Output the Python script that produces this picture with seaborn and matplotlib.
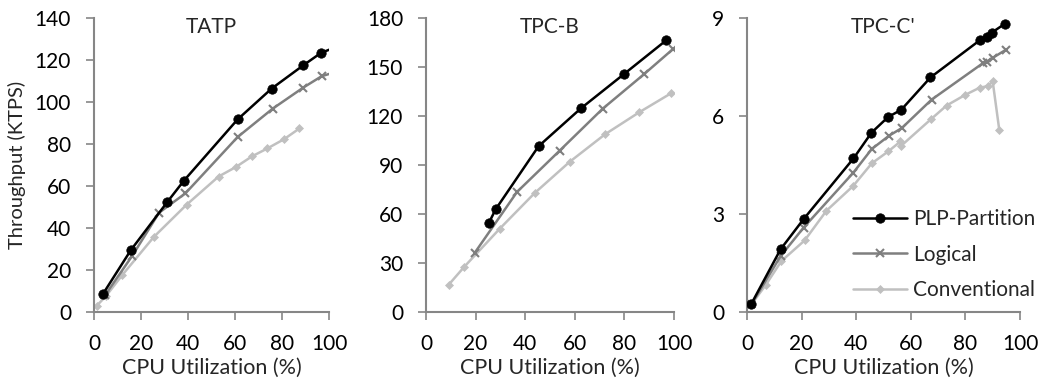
import numpy as np
import pandas as pd
import matplotlib
matplotlib.use("Agg")
import matplotlib.pyplot as plt
import seaborn as sns

series = ["PLP-Partition", "Logical", "Conventional"]

# TATP
tatp_plp_x = [3.7, 15.7, 31.2, 38.3, 61.1, 75.6, 89.1, 96.6, 105]
tatp_plp_y = [8.4, 29.5, 52.4, 62.6, 91.7, 106.4, 117.5, 123.4, 127]
tatp_log_x = [4.7, 16.3, 27.7, 38.9, 61.1, 76.0, 89.1, 96.9, 105]
tatp_log_y = [8.0, 26.8, 47.3, 56.5, 83.3, 96.8, 106.9, 112.3, 115]
tatp_con_x = [1.1, 5.1, 12.1, 25.5, 39.4, 53.0, 60.3, 67.2, 73.8, 80.9, 87.4]
tatp_con_y = [2.9, 7.6, 17.7, 35.8, 51.1, 64.5, 69.0, 74.1, 77.9, 82.3, 87.4]

# TPC-B
tpcb_plp_x = [25.3, 28.1, 45.4, 62.4, 79.7, 96.9]
tpcb_plp_y = [54.4, 62.9, 101.5, 124.6, 145.5, 166.4]
tpcb_log_x = [19.6, 36.7, 53.9, 71.2, 88.0, 99.6]
tpcb_log_y = [36.1, 73.5, 98.8, 124.4, 145.7, 161.0]
tpcb_con_x = [9.1, 15.5, 29.8, 43.8, 57.9, 72.2, 85.9, 98.8]
tpcb_con_y = [16.6, 27.8, 51.1, 72.8, 91.9, 108.8, 122.2, 133.9]

# TPC-C'
tpcc_plp_x = [1.6, 12.3, 20.7, 39.0, 45.6, 51.7, 56.5, 67.2, 85.3, 87.9, 89.6, 94.4]
tpcc_plp_y = [0.25, 1.92, 2.84, 4.70, 5.49, 5.97, 6.19, 7.18, 8.32, 8.43, 8.55, 8.82]
tpcc_log_x = [1.6, 12.3, 20.7, 39.0, 45.7, 52.1, 56.7, 67.6, 86.3, 88.0, 90.0, 94.7]
tpcc_log_y = [0.23, 1.71, 2.58, 4.27, 4.99, 5.40, 5.63, 6.50, 7.61, 7.66, 7.78, 8.02]
tpcc_con_x = [1.6, 6.8, 12.6, 21.1, 29.1, 38.9, 45.7, 51.8, 56.2, 56.5, 67.5, 73.1, 80.0, 85.3, 88.1, 90.0, 92.4]
tpcc_con_y = [0.23, 0.82, 1.56, 2.19, 3.10, 3.86, 4.55, 4.92, 5.22, 5.09, 5.91, 6.32, 6.65, 6.87, 6.91, 7.06, 5.58]

titles = ["TATP", "TPC-B", "TPC-C'"]
y_ticks = [[0, 20, 40, 60, 80, 100, 120, 140],
           [0, 30, 60, 90, 120, 150, 180],
           [0, 3, 6, 9]]
x_ticks = [0, 20, 40, 60, 80, 100]

panels = [
    [(tatp_plp_x, tatp_plp_y), (tatp_log_x, tatp_log_y), (tatp_con_x, tatp_con_y)],
    [(tpcb_plp_x, tpcb_plp_y), (tpcb_log_x, tpcb_log_y), (tpcb_con_x, tpcb_con_y)],
    [(tpcc_plp_x, tpcc_plp_y), (tpcc_log_x, tpcc_log_y), (tpcc_con_x, tpcc_con_y)],
]

sns.set_theme(style="white")
plt.rcParams['font.family'] = ['Lato', 'DejaVu Sans']

colors = ["#000000", "#7f7f7f", "#c0c0c0"]
markers = ["o", "x", "D"]
msizes = [6.8, 6, 4.5]
spine_c = "#868686"

fig = plt.figure(figsize=(10.43, 3.85), dpi=100)
W, H = 1043, 385
boxes = [(94, 329), (426, 674), (747, 1020)]
top, bottom = 18, 312

for i, (l, r) in enumerate(boxes):
    ax = fig.add_axes([l / W, 1 - bottom / H, (r - l) / W, (bottom - top) / H])
    for j, (xs, ys) in enumerate(panels[i]):
        df = pd.DataFrame({"x": xs, "y": ys})
        sns.lineplot(data=df, x="x", y="y", ax=ax, color=colors[j], marker=markers[j],
                     markersize=msizes[j], markeredgecolor=colors[j],
                     markeredgewidth=1.5 if markers[j] == "x" else 0.5,
                     linewidth=1.8, estimator=None, sort=False, label=series[j],
                     legend=False, zorder=3 - j, clip_on=True)
    ax.set_xlim(0, 100)
    ax.set_ylim(y_ticks[i][0], y_ticks[i][-1])
    ax.set_xticks(x_ticks)
    ax.set_yticks(y_ticks[i])
    for s in ["top", "right"]:
        ax.spines[s].set_visible(False)
    for s in ["left", "bottom"]:
        ax.spines[s].set_color(spine_c)
        ax.spines[s].set_linewidth(1.5)
    ax.tick_params(axis="both", which="both", length=5.5, width=1.2, color=spine_c,
                   labelsize=15, labelcolor="#000000", direction="out",
                   bottom=True, left=True)
    ax.tick_params(axis="y", pad=11)
    ax.tick_params(axis="x", pad=10)
    ax.set_xlabel("CPU Utilization (%)", fontsize=15.5, labelpad=3)
    ax.set_ylabel("Throughput (KTPS)" if i == 0 else "", fontsize=14.5, labelpad=6)
    ax.text(0.5, 1.005, titles[i], transform=ax.transAxes, ha="center", va="top", fontsize=15)
    ax.grid(False)
    if i == 2:
        ax.legend(loc="upper left", bbox_to_anchor=(853 / W, 1 - 209 / H),
                  bbox_transform=fig.transFigure, frameon=False, fontsize=15,
                  handlelength=2.6, labelspacing=0.75, handletextpad=0.3,
                  borderpad=0, borderaxespad=0)

fig.savefig("out.png", dpi=100)
